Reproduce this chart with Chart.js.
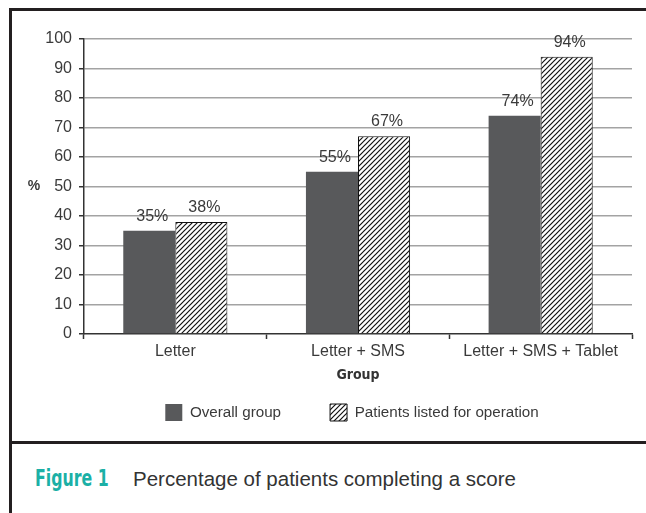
<!DOCTYPE html>
<html>
<head>
<meta charset="utf-8">
<script src="https://cdn.jsdelivr.net/npm/chart.js@4.4.1/dist/chart.umd.min.js"></script>
<style>
  html, body { margin: 0; padding: 0; background: #fff; overflow: hidden; }
  #wrap { position: relative; width: 646px; height: 513px; }
  #myChart { position: absolute; left: 0; top: 0; }
  .rule { position: absolute; background: #231f20; }
  .cap { position: absolute; top: 467px; white-space: nowrap; }
  #figNo {
    left: 35px; top: 465px; transform: scaleX(0.78); transform-origin: left center;
    font-family: "DejaVu Sans Condensed", "DejaVu Sans", sans-serif; font-weight: bold;
    font-size: 22.5px; color: #1bb0a6;
  }
  #figText {
    left: 133px; font-family: "Liberation Sans", Arial, sans-serif; font-size: 20.5px; color: #333;
  }
</style>
</head>
<body>
<div id="wrap">
  <canvas id="myChart" width="646" height="440"></canvas>
  <div class="rule" style="left:9px; top:8px; width:3px; height:505px;"></div>
  <div class="rule" style="left:9px; top:8px; width:637px; height:3px;"></div>
  <div class="rule" style="left:9px; top:441px; width:637px; height:3px;"></div>
  <div class="cap" id="figNo">Figure 1</div>
  <div class="cap" id="figText">Percentage of patients completing a score</div>
</div>
<script>
// chart data
var groups = ["Letter", "Letter + SMS", "Letter + SMS + Tablet"];
var overallGroup = [35, 55, 74];
var listedForOperation = [38, 67, 94];
var seriesNames = ["Overall group", "Patients listed for operation"];
var yTicks = [0, 10, 20, 30, 40, 50, 60, 70, 80, 90, 100];

var FONT = '"Liberation Sans", Arial, sans-serif';
var TEXT = "#3a3a3a";

// white fill with black "/" stripes
function makeHatch() {
  var c = document.createElement("canvas");
  c.width = 5;
  c.height = 5;
  var g = c.getContext("2d");
  g.fillStyle = "#fff";
  g.fillRect(0, 0, 5, 5);
  g.strokeStyle = "#111";
  g.lineWidth = 1.2;
  g.beginPath();
  g.moveTo(-1, 6); g.lineTo(6, -1);
  g.moveTo(-1, 1); g.lineTo(1, -1);
  g.moveTo(4, 6); g.lineTo(6, 4);
  g.stroke();
  return g.createPattern(c, "repeat");
}
var hatch = makeHatch();

// value labels above the bars + the "%" axis label
var labelPlugin = {
  id: "labels",
  afterDatasetsDraw: function (chart) {
    var ctx = chart.ctx;
    ctx.save();
    ctx.font = "16px " + FONT;
    ctx.fillStyle = TEXT;
    ctx.textAlign = "center";
    ctx.textBaseline = "alphabetic";
    chart.data.datasets.forEach(function (ds, i) {
      chart.getDatasetMeta(i).data.forEach(function (bar, j) {
        ctx.fillText(ds.data[j] + "%", bar.x + 3, bar.y - 10);
      });
    });
    ctx.font = "bold 14px " + FONT;
    ctx.textBaseline = "middle";
    ctx.fillText("%", chart.chartArea.left - 50, chart.scales.y.getPixelForValue(50));
    ctx.restore();
  },
};

// keep the legend centred under the plot, just below the axis title
var legendPlugin = {
  id: "legendPlace",
  afterLayout: function (chart) {
    var lg = chart.legend;
    var a = chart.chartArea;
    var pad = lg.options.labels.padding;
    lg.left = a.left - 6;
    lg.right = a.right - 6;
    lg.width = a.right - a.left;
    lg.top = chart.scales.x.bottom + 20 - pad;
    lg.height = pad + 17 + 10;
    lg.bottom = lg.top + lg.height;
  },
};

var chart = new Chart("myChart", {
  type: "bar",
  data: {
    labels: groups,
    datasets: [
      {
        label: seriesNames[0],
        data: overallGroup,
        backgroundColor: "#58595b",
        borderWidth: 0,
      },
      {
        label: seriesNames[1],
        data: listedForOperation,
        backgroundColor: hatch,
        borderColor: "#111",
        borderWidth: 1,
      },
    ],
  },
  options: {
    responsive: false,
    animation: false,
    layout: { padding: { top: 39, right: 14, bottom: 36, left: 0 } },
    datasets: { bar: { categoryPercentage: 0.57, barPercentage: 1 } },
    plugins: {
      tooltip: { enabled: false },
      legend: {
        position: "bottom",
        maxHeight: 20,
        labels: {
          boxWidth: 17,
          boxHeight: 17,
          padding: 49,
          color: TEXT,
          font: { family: FONT, size: 15.2 },
        },
      },
    },
    scales: {
      x: {
        offset: true,
        grid: {
          offset: true,
          drawOnChartArea: false,
          drawTicks: true,
          tickLength: 5,
          tickColor: "#333",
          tickWidth: 1.5,
        },
        border: { color: "#333", width: 1.5 },
        ticks: { color: TEXT, padding: 3, font: { family: FONT, size: 16 } },
        title: {
          display: true,
          text: "Group",
          color: "#333",
          padding: { top: 4, bottom: 0 },
          font: { family: '"DejaVu Sans Condensed", "DejaVu Sans", sans-serif', size: 14, weight: "bold" },
        },
        afterFit: function (s) { s.height = 50; },
      },
      y: {
        min: 0,
        max: 100,
        afterBuildTicks: function (s) {
          s.ticks = yTicks.map(function (v) { return { value: v }; });
        },
        grid: {
          color: function (c) { return c.tick && c.tick.value === 0 ? "rgba(0,0,0,0)" : "#a3a3a3"; },
          lineWidth: 1.5,
          tickLength: 5,
          tickColor: "#333",
          tickWidth: 1.5,
        },
        border: { color: "#333", width: 1.5 },
        ticks: { color: TEXT, padding: 7, font: { family: FONT, size: 16 } },
        afterFit: function (s) { s.width = 84; },
      },
    },
  },
  plugins: [labelPlugin, legendPlugin],
});
</script>
</body>
</html>
